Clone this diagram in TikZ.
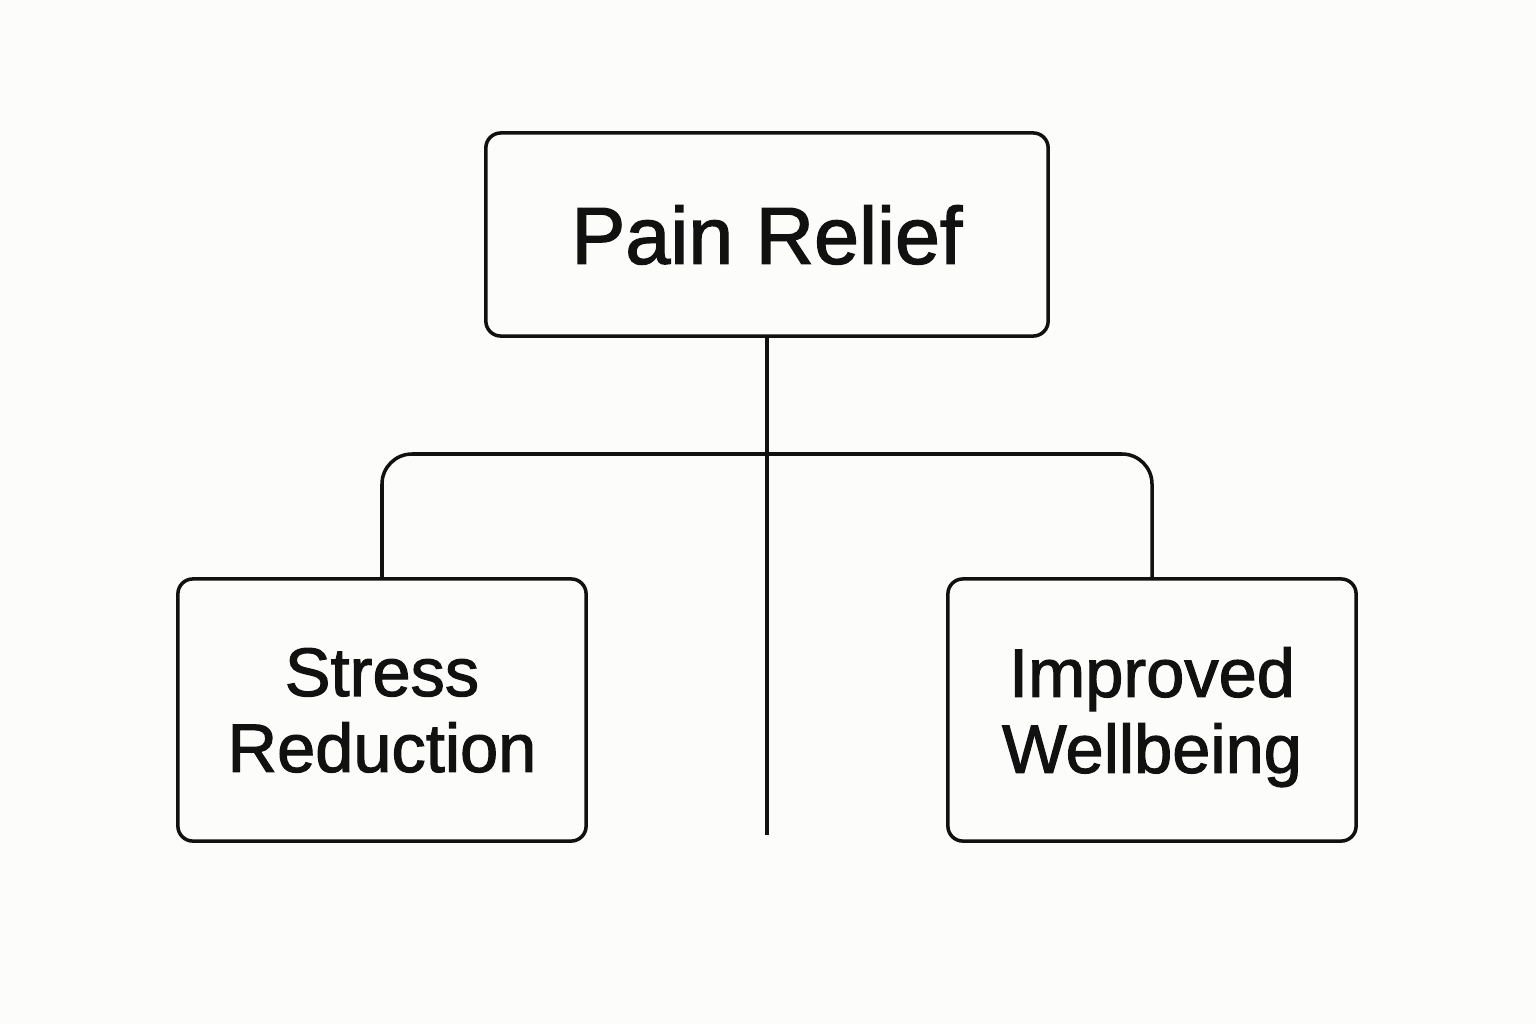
\documentclass[tikz,border=0pt]{standalone}
\usepackage{fontspec}
\setmainfont{Liberation Sans}[FakeBold=1.6]
\usepackage{tikz}
\usetikzlibrary{calc}
\definecolor{paper}{HTML}{FCFCFA}
\definecolor{ink}{HTML}{111111}

\begin{document}
\begin{tikzpicture}[x=0.01cm,y=-0.01cm,
    box/.style={draw=ink,line width=1pt,rounded corners=0.15cm,align=center,inner sep=0pt,text=ink,text depth=0pt},
    link/.style={draw=ink,line width=1pt}]
      \fill[paper] (0,0) rectangle (1536,1024);
      \useasboundingbox (0,0) rectangle (1536,1024);
      \node[box,minimum width=5.62cm,minimum height=2.03cm,font=\fontsize{23}{26}\selectfont] (pain) at (767,234.5) {Pain Relief};
      \node[box,minimum width=4.08cm,minimum height=2.62cm,font=\fontsize{19.5}{21.6}\selectfont] (stress) at (382,710) {Stress\\Reduction};
      \node[box,minimum width=4.08cm,minimum height=2.62cm,font=\fontsize{19.5}{21.6}\selectfont] (well) at (1152,710) {Improved\\Wellbeing};
      \coordinate (bar) at (767,454);
      \coordinate (stemend) at (767,835);
      % trunk
      \draw[link] (pain) -- (stemend);
      % branches
      \draw[link,rounded corners=0.3cm] (stress.north) |- (bar) -| (well.north);
\end{tikzpicture}
\end{document}
